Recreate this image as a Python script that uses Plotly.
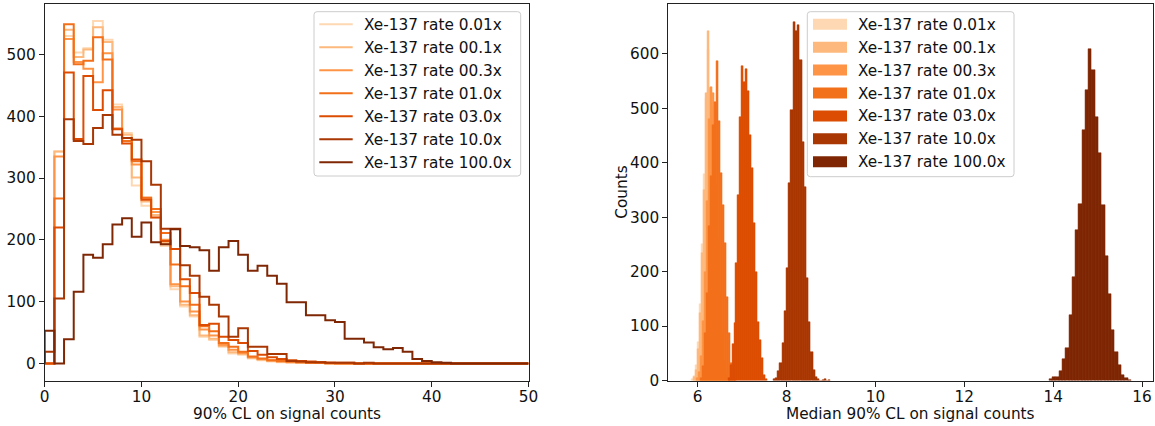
import plotly.graph_objects as go

# ---------------------------------------------------------------------------
# Series labels and colours (Oranges ramp, light -> dark)
# ---------------------------------------------------------------------------
labels = [
    "Xe-137 rate 0.01x",
    "Xe-137 rate 00.1x",
    "Xe-137 rate 00.3x",
    "Xe-137 rate 01.0x",
    "Xe-137 rate 03.0x",
    "Xe-137 rate 10.0x",
    "Xe-137 rate 100.0x",
]
colors = ["#fdd8b3", "#fdb97d", "#fd9446", "#f3701b", "#dc4c03", "#a93703", "#7f2704"]

# ---------------------------------------------------------------------------
# Left panel: per-toy 90% CL on signal counts, unit-width bins on [0, 50]
# ---------------------------------------------------------------------------
cl_edges = list(range(0, 51))

cl_counts_001 = [0, 343, 530, 503, 510, 554, 524, 419, 373, 288,
                 255, 236, 190, 120, 92, 76, 43, 38, 27, 16,
                 14, 8, 5, 3, 2, 2, 1, 1, 1, 0,
                 0, 0, 0, 0, 0, 0, 0, 0, 0, 0,
                 0, 0, 0, 0, 0, 0, 0, 0, 0, 0]
cl_counts_01 = [0, 343, 540, 496, 508, 544, 520, 415, 370, 301,
                262, 240, 195, 125, 95, 78, 45, 40, 28, 18,
                15, 9, 6, 4, 3, 2, 1, 1, 1, 0,
                0, 0, 0, 0, 0, 0, 0, 0, 0, 0,
                0, 0, 0, 0, 0, 0, 0, 0, 0, 0]
cl_counts_03 = [0, 335, 525, 488, 477, 455, 502, 411, 365, 322,
                268, 245, 200, 128, 100, 84, 55, 45, 30, 22,
                17, 10, 7, 5, 3, 2, 2, 1, 1, 0,
                0, 0, 0, 0, 0, 0, 0, 0, 0, 0,
                0, 0, 0, 0, 0, 0, 0, 0, 0, 0]
cl_counts_1 = [0, 267, 549, 484, 490, 528, 492, 380, 360, 327,
               268, 250, 211, 160, 125, 95, 60, 52, 33, 27,
               19, 11, 8, 5, 4, 3, 2, 1, 1, 1,
               0, 0, 0, 0, 0, 0, 0, 0, 0, 0,
               0, 0, 0, 0, 0, 0, 0, 0, 0, 0]
cl_counts_3 = [0, 220, 471, 363, 465, 410, 442, 379, 356, 330,
               265, 236, 198, 185, 136, 114, 62, 64, 43, 38,
               33, 20, 14, 10, 7, 5, 4, 3, 2, 1,
               1, 1, 0, 0, 0, 0, 0, 0, 0, 0,
               0, 0, 0, 0, 0, 0, 0, 0, 0, 0]
cl_counts_10 = [19, 105, 395, 360, 355, 381, 402, 370, 365, 362,
                327, 289, 218, 218, 159, 142, 108, 95, 76, 43,
                57, 27, 27, 15, 15, 4, 3, 2, 2, 1,
                1, 1, 0, 1, 0, 0, 0, 0, 0, 0,
                0, 0, 0, 0, 0, 0, 0, 0, 0, 0]
cl_counts_100 = [53, 0, 39, 116, 176, 171, 193, 225, 235, 205,
                 228, 196, 193, 217, 190, 188, 183, 150, 188, 198,
                 176, 150, 158, 142, 129, 99, 99, 78, 78, 70,
                 67, 40, 40, 34, 26, 23, 25, 19, 7, 4,
                 2, 1, 0, 0, 0, 0, 0, 0, 0, 0]

cl_counts = [cl_counts_001, cl_counts_01, cl_counts_03, cl_counts_1,
             cl_counts_3, cl_counts_10, cl_counts_100]

# ---------------------------------------------------------------------------
# Right panel: median 90% CL, each series with its own binning
# (first bin edge, bin width, counts)
# ---------------------------------------------------------------------------
med_start = [5.856, 5.901, 5.962, 6.052, 6.682, 7.694, 13.91]
med_width = [0.045, 0.045, 0.045, 0.045, 0.044, 0.050, 0.0738]

med_counts_001 = [3, 8, 28, 70, 140, 250, 380, 520, 610, 520, 470, 350, 230, 130, 60, 25, 8, 2]
med_counts_01 = [6, 20, 57, 124, 234, 350, 528, 642, 537, 500, 380, 250, 150, 80, 30, 10, 3]
med_counts_03 = [4, 15, 45, 110, 200, 330, 480, 540, 528, 470, 360, 260, 160, 85, 35, 12, 3]
med_counts_1 = [5, 26, 87, 160, 283, 375, 470, 512, 587, 477, 381, 323, 252, 154, 87, 32, 8, 2]
med_counts_3 = [5, 29, 67, 105, 216, 340, 485, 578, 548, 572, 532, 451, 390, 289, 200, 108, 75, 42, 10, 2]
med_counts_10 = [2, 5, 17, 32, 69, 127, 206, 362, 497, 658, 643, 653, 589, 439, 356, 188, 108, 53,
                 20, 7, 2, 0, 1, 2, 0, 1]
med_counts_100 = [2, 7, 6, 17, 39, 59, 121, 191, 276, 325, 460, 533, 610, 571, 484, 418, 323, 229,
                  159, 93, 53, 28, 10, 4, 1]

med_counts = [med_counts_001, med_counts_01, med_counts_03, med_counts_1,
              med_counts_3, med_counts_10, med_counts_100]

# ---------------------------------------------------------------------------
FONT = "DejaVu Sans"
FS = 15.3
TXT = "#111111"
W, H = 1155, 426


def px(x):
    """horizontal pixel -> paper fraction"""
    return x / W


def py(y):
    """vertical pixel (from top) -> paper fraction"""
    return 1 - y / H


fig = go.Figure()

# step-outline histograms (left)
for lab, col, counts in zip(labels, colors, cl_counts):
    xs = [cl_edges[0]] + cl_edges
    ys = [0] + counts + [0]
    fig.add_trace(go.Scatter(
        x=xs, y=ys, mode="lines", name=lab,
        line=dict(color=col, width=2, shape="hv"),
        xaxis="x", yaxis="y", showlegend=False, hoverinfo="skip",
    ))

# filled histograms (right)
for lab, col, start, width, counts in zip(labels, colors, med_start, med_width, med_counts):
    centers = [start + (i + 0.5) * width for i in range(len(counts))]
    fig.add_trace(go.Bar(
        x=centers, y=counts, width=width, name=lab,
        marker=dict(color=col, line=dict(width=0.5, color=col)),
        xaxis="x2", yaxis="y2", showlegend=False, hoverinfo="skip",
    ))

axis_common = dict(
    automargin=False,
    showgrid=False, zeroline=False,
    showline=True, mirror=True, linecolor="#222", linewidth=1,
    ticks="outside", ticklen=5, tickwidth=1, tickcolor="#222",
    tickfont=dict(family=FONT, size=FS, color=TXT),
)
xaxis_extra = dict(ticklabelstandoff=-3)

y_dom = [py(380.5), py(4)]

shapes = []
annotations = []


def legend_box(x0, x1, y0, y1, row0, step, hx0, hx1, tx, kind):
    """Rounded legend frame with one handle + label per series."""
    r = 3
    path = (f"M {px(x0 + r)} {py(y0)} L {px(x1 - r)} {py(y0)} "
            f"Q {px(x1)} {py(y0)} {px(x1)} {py(y0 + r)} "
            f"L {px(x1)} {py(y1 - r)} Q {px(x1)} {py(y1)} {px(x1 - r)} {py(y1)} "
            f"L {px(x0 + r)} {py(y1)} Q {px(x0)} {py(y1)} {px(x0)} {py(y1 - r)} "
            f"L {px(x0)} {py(y0 + r)} Q {px(x0)} {py(y0)} {px(x0 + r)} {py(y0)} Z")
    shapes.append(dict(type="path", path=path, xref="paper", yref="paper",
                       fillcolor="rgba(255,255,255,0.8)",
                       line=dict(color="#cccccc", width=1), layer="above"))
    for i, (lab, col) in enumerate(zip(labels, colors)):
        yc = row0 + i * step
        if kind == "line":
            shapes.append(dict(type="line", xref="paper", yref="paper",
                               x0=px(hx0), x1=px(hx1), y0=py(yc), y1=py(yc),
                               line=dict(color=col, width=2), layer="above"))
        else:
            shapes.append(dict(type="rect", xref="paper", yref="paper",
                               x0=px(hx0), x1=px(hx1), y0=py(yc - 5.5), y1=py(yc + 5.5),
                               fillcolor=col, line=dict(width=0), layer="above"))
        annotations.append(dict(text=lab, x=px(tx), y=py(yc + 0.5), xref="paper", yref="paper",
                                xanchor="left", yanchor="middle", showarrow=False,
                                font=dict(family=FONT, size=FS, color=TXT)))


legend_box(314, 520.7, 11.7, 176, 24.3, 23.0, 319.3, 352.7, 362.5, "line")
legend_box(807.3, 1014, 11.7, 176.7, 24.3, 22.9, 813, 847, 856, "patch")

annotations += [
    dict(text="90% CL on signal counts", x=px((44.7 + 528.5) / 2), y=py(414),
         xref="paper", yref="paper", xanchor="center", yanchor="middle",
         showarrow=False, font=dict(family=FONT, size=FS, color=TXT)),
    dict(text="Median 90% CL on signal counts", x=px((668.3 + 1152.7) / 2), y=py(414),
         xref="paper", yref="paper", xanchor="center", yanchor="middle",
         showarrow=False, font=dict(family=FONT, size=FS, color=TXT)),
    dict(text="Counts", x=px(621.7), y=py(192), textangle=-90,
         xref="paper", yref="paper", xanchor="center", yanchor="middle",
         showarrow=False, font=dict(family=FONT, size=FS, color=TXT)),
]

fig.update_layout(
    width=W, height=H,
    margin=dict(l=0, r=0, t=0, b=0),
    paper_bgcolor="white", plot_bgcolor="white",
    font=dict(family=FONT, size=FS, color=TXT),
    barmode="overlay", bargap=0, showlegend=False,
    xaxis=dict(domain=[px(44.7), px(528.5)], range=[0, 50], tickvals=[0, 10, 20, 30, 40, 50],
               anchor="y", **axis_common, **xaxis_extra),
    yaxis=dict(domain=y_dom, range=[-27.7, 581.7], tickvals=[0, 100, 200, 300, 400, 500],
               anchor="x", **axis_common),
    xaxis2=dict(domain=[px(668.3), px(1152.7)], range=[5.34, 16.24],
                tickvals=[6, 8, 10, 12, 14, 16], anchor="y2", **axis_common, **xaxis_extra),
    yaxis2=dict(domain=y_dom, range=[0, 691.8], tickvals=[0, 100, 200, 300, 400, 500, 600],
                anchor="x2", **axis_common),
    shapes=shapes,
    annotations=annotations,
)

fig.write_html("out.html")
